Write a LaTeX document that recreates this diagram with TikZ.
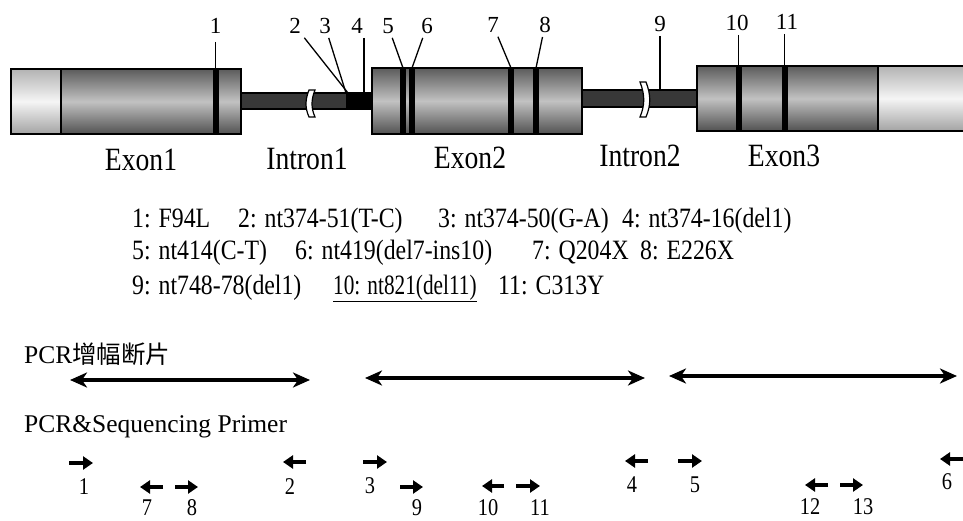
\documentclass[tikz,border=0pt]{standalone}
\usepackage{fontspec}
\setmainfont{Liberation Serif}
\newfontfamily\condf[FakeStretch=0.85]{Liberation Serif}
\newfontfamily\condg[FakeStretch=0.76]{Liberation Serif}
\newfontfamily\cjkf{Noto Sans CJK SC}
\usetikzlibrary{arrows.meta}
\begin{document}
\begin{tikzpicture}[x=1pt,y=-1pt,
 toplab/.style={font=\fontsize{23}{25}\selectfont, inner sep=4pt},
 region/.style={font=\condf\fontsize{32.5}{36}\selectfont, anchor=base, inner sep=0pt},
 legend/.style={font=\condf\fontsize{28}{30}\selectfont, anchor=base west, inner sep=0pt},
 legendnarrow/.style={font=\condg\fontsize{28}{30}\selectfont, anchor=base west, inner sep=0pt},
 primlab/.style={font=\condf\fontsize{24}{26}\selectfont, inner sep=0pt},
 header/.style={font=\fontsize{25.5}{28}\selectfont, anchor=base west, inner sep=0pt},
 mutline/.style={line width=1.3pt},
 mutbar/.style={fill=black},
 boxline/.style={draw=black, line width=2.2pt},
 exonshade/.style={top color=black!64, bottom color=black!68, middle color=black!24},
 utrshade/.style={top color=black!30, bottom color=black!36, middle color=black!4},
 intronfill/.style={fill=black!78, draw=black, line width=1.5pt},
 breakmark/.style={fill=white, draw=black, line width=1.2pt},
 pcr/.style={line width=3.5pt, {Stealth[length=17pt,width=15pt,inset=5pt]}-{Stealth[length=17pt,width=15pt,inset=5pt]}},
 primer/.style={line width=4.5pt, -{Triangle[length=10pt,width=13pt]}},
]
\useasboundingbox (0,0) rectangle (963,521);
\fill[white] (0,0) rectangle (963,521);

% ---------- introns ----------
\draw[intronfill] (241,93) rectangle (372,109);
\fill[black] (346,93) rectangle (372,109);
\draw[intronfill] (582,90) rectangle (697,107);

% ---------- exon 1 ----------
\shade[utrshade] (11,69) rectangle (61,134);
\shade[exonshade] (61,69) rectangle (241,134);
\draw[boxline] (61,69) -- (61,134);
\draw[boxline] (11,69) rectangle (241,134);
\fill[mutbar] (212.5,69) rectangle (218.5,134);

% ---------- exon 2 ----------
\shade[exonshade] (372,68) rectangle (582,134);
\draw[boxline] (372,68) rectangle (582,134);
\fill[mutbar] (399.5,68) rectangle (405.5,134);
\fill[mutbar] (408.5,68) rectangle (414.5,134);
\fill[mutbar] (508,68) rectangle (514,134);
\fill[mutbar] (533,68) rectangle (539,134);

% ---------- exon 3 ----------
\shade[exonshade] (697,66) rectangle (878,131);
\shade[utrshade] (878,66) rectangle (975,131);
\draw[boxline] (878,66) -- (878,131);
\draw[boxline] (697,66) rectangle (975,131);
\fill[mutbar] (735.5,66) rectangle (741.5,131);
\fill[mutbar] (781.5,66) rectangle (787.5,131);

% ---------- break marks ----------
\draw[breakmark] (309,90) .. controls (305,100) and (305,108) .. (309,117) -- (315,117) .. controls (311,108) and (311,100) .. (315,90) -- cycle;
\draw[breakmark] (640,82) .. controls (645,95) and (645,105) .. (640,117) -- (646,117) .. controls (651,105) and (651,95) .. (646,82) -- cycle;

% ---------- mutation points ----------
\coordinate (m1) at (215.5,69);
\coordinate (m2) at (348,93);
\coordinate (m3) at (346,93);
\coordinate (m4) at (364,93);
\coordinate (m5) at (403,68);
\coordinate (m6) at (412,68);
\coordinate (m7) at (511,68);
\coordinate (m8) at (536,68);
\coordinate (m9) at (660,90);
\coordinate (m10) at (738.5,66);
\coordinate (m11) at (784.5,66);

\node[toplab] (l1) at (215.5,26) {1};
\node[toplab] (l2) at (295,26) {2};
\node[toplab] (l3) at (325,26) {3};
\node[toplab] (l4) at (357,26) {4};
\node[toplab] (l5) at (388,26) {5};
\node[toplab] (l6) at (427,26) {6};
\node[toplab] (l7) at (493,25) {7};
\node[toplab] (l8) at (545,25) {8};
\node[toplab] (l9) at (660,24) {9};
\node[toplab] (l10) at (737,23) {10};
\node[toplab] (l11) at (787,22) {11};

\draw[mutline, shorten <=4pt] (l1.south -| m1) -- (m1);
\draw[mutline] (l2) -- (m2);
\draw[mutline] (l3) -- (m3);
\draw[mutline] (l4.south -| m4) -- (m4);
\draw[mutline] (l5) -- (m5);
\draw[mutline] (l6) -- (m6);
\draw[mutline] (l7) -- (m7);
\draw[mutline] (l8) -- (m8);
\draw[mutline] (l9.south -| m9) -- (m9);
\draw[mutline] (l10.south -| m10) -- (m10);
\draw[mutline] (l11.south -| m11) -- (m11);

% ---------- region names ----------
\node[region] (exon1) at (141,171) {Exon1};
\node[region] (intron1) at (307,170) {Intron1};
\node[region] (exon2) at (470,169) {Exon2};
\node[region] (intron2) at (640,167) {Intron2};
\node[region] (exon3) at (784,167) {Exon3};

% ---------- legend ----------
\node[legend] (t1) at (132,228) {1: F94L};
\node[legend] (t2) at (238,228) {2: nt374-51(T-C)};
\node[legend] (t3) at (438,228) {3: nt374-50(G-A)};
\node[legend] (t4) at (622,228) {4: nt374-16(del1)};
\node[legend] (t5) at (132,260) {5: nt414(C-T)};
\node[legend] (t6) at (295,260) {6: nt419(del7-ins10)};
\node[legend] (t7) at (532,260) {7: Q204X};
\node[legend] (t8) at (640,260) {8: E226X};
\node[legend] (t9) at (132,294) {9: nt748-78(del1)};
\node[legendnarrow] (t10) at (333,294) {\underline{10: nt821(del11)}};
\node[legend] (t11) at (498,294) {11: C313Y};

% ---------- PCR fragments ----------
\node[header] (h1) at (24,363) {PCR{\cjkf\fontsize{24.5}{28}\selectfont 增幅断片}};
\coordinate (f1a) at (70,380);  \coordinate (f1b) at (310,380);
\coordinate (f2a) at (365,378); \coordinate (f2b) at (645,378);
\coordinate (f3a) at (669,376); \coordinate (f3b) at (957,376);
\draw[pcr] (f1a) -- (f1b);
\draw[pcr] (f2a) -- (f2b);
\draw[pcr] (f3a) -- (f3b);

% ---------- primers ----------
\node[header] (h2) at (24,432) {PCR\&Sequencing Primer};
\foreach \n/\xa/\xb/\y/\lx/\ly in {
 1/69/93/463/84/487, 2/306/283/462/290/487, 3/363/387/462/370/486,
 4/648/625/461/632/485, 5/678/702/461/695/485, 6/963/940/459/947/482,
 7/163/140/487/147/508, 8/175/198/487/192/508, 9/400/423/487/417/508,
 10/504/482/486/488/508, 11/516/540/486/540/508,
 12/828/805/485/810/507, 13/840/863/485/863/507}{
  \coordinate (p\n a) at (\xa,\y);
  \coordinate (p\n b) at (\xb,\y);
  \draw[primer] (p\n a) -- (p\n b);
  \node[primlab] (pl\n) at (\lx,\ly) {\n};
}
\end{tikzpicture}
\end{document}
